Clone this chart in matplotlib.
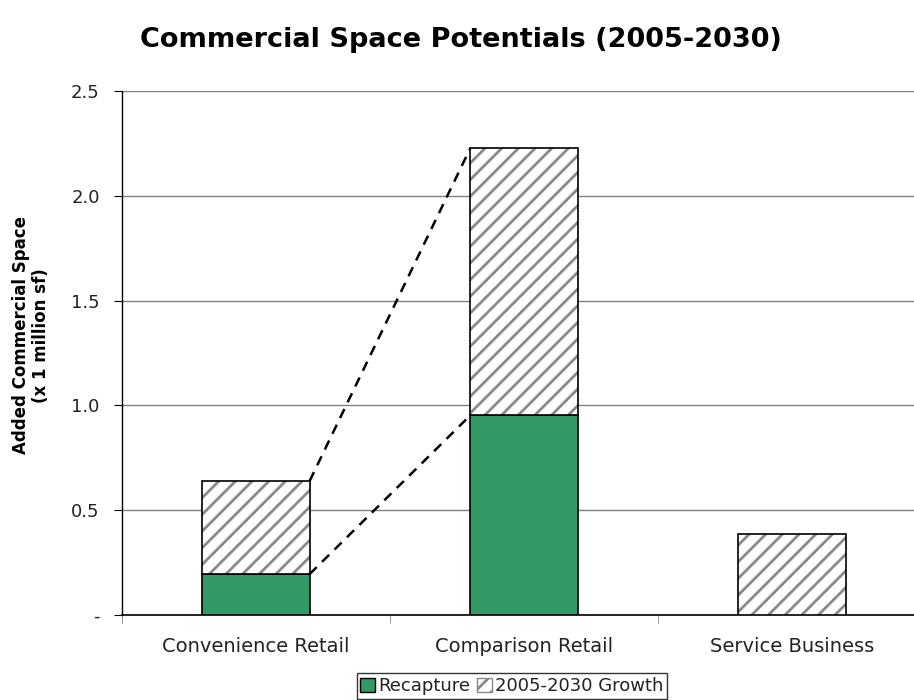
import matplotlib
matplotlib.use("Agg")
import matplotlib.pyplot as plt
from matplotlib.patches import Patch

categories = ["Convenience Retail", "Comparison Retail", "Service Business"]
recapture = [0.195, 0.953, 0.0]
growth = [0.444, 1.275, 0.386]
yticks = [0, 0.5, 1.0, 1.5, 2.0, 2.5]
yticklabels = ["-", "0.5", "1.0", "1.5", "2.0", "2.5"]

plt.rcParams['font.family'] = ['DejaVu Sans']
plt.rcParams['hatch.linewidth'] = 2.0

green = "#339966"
hatch_gray = "#8a8a8a"
text_col = "#222222"

fig = plt.figure(figsize=(9.14, 7.0), dpi=100)
ax = fig.add_axes([122/914, 1-615/700, (926-122)/914, (615-91)/700])

x = list(range(len(categories)))
w = 0.4
totals = [r + g for r, g in zip(recapture, growth)]

ax.bar(x, recapture, width=w, color=green, edgecolor="black", linewidth=1.2, zorder=3)
ax.bar(x, growth, bottom=recapture, width=w, color="white", edgecolor=hatch_gray,
       hatch="//", linewidth=0, zorder=3)
ax.bar(x, growth, bottom=recapture, width=w, color="none", edgecolor="black",
       linewidth=1.2, zorder=4)

# dashed connectors between first and second bar
ax.plot([x[0] + w/2, x[1] - w/2], [recapture[0], recapture[1]], ls=(0, (4, 3)),
        color="black", lw=1.8, zorder=5)
ax.plot([x[0] + w/2, x[1] - w/2], [totals[0], totals[1]], ls=(0, (4, 3)),
        color="black", lw=1.8, zorder=5)

ax.set_xlim(-0.5, 2.5)
ax.set_ylim(0, 2.5)
ax.set_yticks(yticks)
ax.set_yticklabels(yticklabels, fontsize=13, color=text_col)
ax.yaxis.grid(True, color="#808080", linewidth=1.0, zorder=0)
ax.set_axisbelow(True)

ax.set_xticks(x)
ax.set_xticklabels(categories, fontsize=14, color=text_col)
ax.tick_params(axis="x", length=0, pad=16)
ax.set_xticks([0.5, 1.5, -0.5], minor=True)
ax.tick_params(axis="x", which="minor", length=6, color="#808080", direction="out")
ax.tick_params(axis="y", length=6, direction="out", pad=10)

for s in ["top", "right"]:
    ax.spines[s].set_visible(False)
ax.spines["left"].set_color("black")
ax.spines["bottom"].set_color("black")
ax.spines["left"].set_linewidth(1.0)
ax.spines["bottom"].set_linewidth(1.2)

ax.set_ylabel("Added Commercial Space\n(x 1 million sf)", fontsize=12, fontweight="bold",
              linespacing=1.15)
ax.yaxis.set_label_coords(-72/804, 0.534)

fig.text(461/914, 1-40/700, "Commercial Space Potentials (2005-2030)", ha="center", va="center",
         fontsize=19.5, fontweight="bold")

handles = [Patch(facecolor=green, edgecolor="black", label="Recapture"),
           Patch(facecolor="white", edgecolor=hatch_gray, hatch="//", label="2005-2030 Growth")]
leg = fig.legend(handles=handles, loc="center", bbox_to_anchor=(512/914, 1-686/700), ncol=2,
                 fontsize=13, frameon=True, fancybox=False, edgecolor="black",
                 handlelength=0.8, handleheight=0.8, handletextpad=0.2, columnspacing=0.4,
                 borderpad=0.2, borderaxespad=0)
leg.get_frame().set_linewidth(1.0)
for t in leg.get_texts():
    t.set_color(text_col)

fig.savefig("out.png", dpi=100)
